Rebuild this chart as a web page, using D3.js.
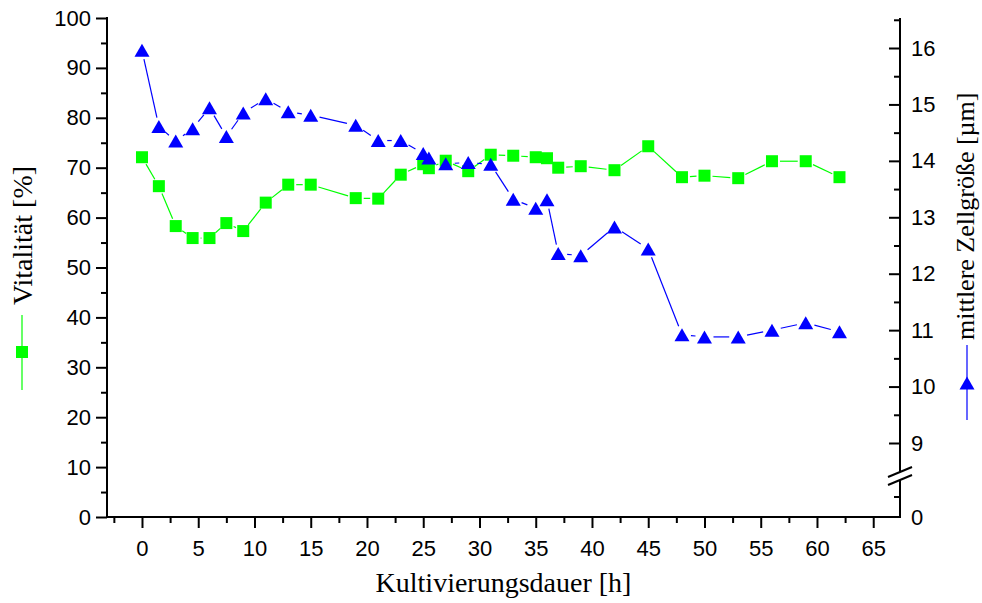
<!DOCTYPE html>
<html>
<head>
<meta charset="utf-8">
<script src="https://cdn.jsdelivr.net/npm/d3@7"></script>
<style>
  html, body { margin: 0; padding: 0; background: #fff; }
  svg { display: block; }
  .tick text { font-family: "Liberation Sans", Arial, sans-serif; font-size: 22px; fill: #000; }
  .title { font-family: "Liberation Serif", "Times New Roman", serif; font-size: 28px; fill: #000; }
</style>
</head>
<body>
<svg id="chart" width="982" height="603"></svg>
<script>
// Cultivation time in hours
const hours = [0, 1.5, 3, 4.5, 6, 7.5, 9, 11, 13, 15, 19, 21, 23, 25, 25.5, 27, 29, 31,
               33, 35, 36, 37, 39, 42, 45, 48, 50, 53, 56, 59, 62];
// Viability in percent
const vitality = [72.1, 66.3, 58.3, 55.9, 55.9, 58.9, 57.3, 63.0, 66.6, 66.6, 63.9, 63.8,
                  68.6, 70.7, 69.9, 71.4, 69.3, 72.6, 72.4, 72.1, 71.9, 70.0, 70.3, 69.5,
                  74.3, 68.1, 68.4, 67.9, 71.3, 71.3, 68.1];
// Mean cell size in micrometres
const cellSize = [15.96, 14.61, 14.35, 14.57, 14.94, 14.43, 14.85, 15.10, 14.87, 14.81, 14.63,
                  14.36, 14.36, 14.13, 14.05, 13.95, 13.97, 13.94, 13.32, 13.16, 13.31, 12.36,
                  12.32, 12.83, 12.44, 10.92, 10.88, 10.88, 11.00, 11.13, 10.97];

const xTicks = [0, 5, 10, 15, 20, 25, 30, 35, 40, 45, 50, 55, 60, 65];
const xMinor = [-2.5, 2.5, 7.5, 12.5, 17.5, 22.5, 27.5, 32.5, 37.5, 42.5, 47.5, 52.5, 57.5, 62.5];
const leftTicks = [0, 10, 20, 30, 40, 50, 60, 70, 80, 90, 100];
const leftMinor = [5, 15, 25, 35, 45, 55, 65, 75, 85, 95];
const rightTicks = [9, 10, 11, 12, 13, 14, 15, 16];
const rightMinor = [9.5, 10.5, 11.5, 12.5, 13.5, 14.5, 15.5, 16.5];
const rightLowTicks = [0];
const rightLowMinor = [0.5];

const svg = d3.select("#chart");

const x = d3.scaleLinear().domain([-3.11, 67.38]).range([107, 900]);
const yL = d3.scaleLinear().domain([0, 100]).range([517, 18]);
// right axis is broken: upper part 9..16, lower stub showing 0
const yR = d3.scaleLinear().domain([9, 16]).range([443, 48]);
const yR0 = d3.scaleLinear().domain([0, 1]).range([517, 476]);

const axisColor = "#000";
const intFmt = d3.format("d");
function styleAxis(g) {
  g.selectAll("line").attr("stroke", axisColor).attr("stroke-width", 2);
  g.selectAll(".domain").remove();
}

// ---- bottom axis ----
svg.append("g").attr("transform", `translate(0,${yL(0)})`)
  .call(d3.axisBottom(x).tickValues(xTicks).tickSize(11).tickPadding(12).tickFormat(intFmt))
  .call(styleAxis);
svg.append("g").attr("transform", `translate(0,${yL(0)})`)
  .call(d3.axisBottom(x).tickValues(xMinor).tickSize(6).tickFormat(""))
  .call(styleAxis);
svg.append("line").attr("x1", x.range()[0] - 1).attr("x2", x.range()[1] + 1)
  .attr("y1", yL(0)).attr("y2", yL(0)).attr("stroke", axisColor).attr("stroke-width", 2);

// ---- left axis ----
svg.append("g").attr("transform", `translate(${x.range()[0]},0)`)
  .call(d3.axisLeft(yL).tickValues(leftTicks).tickSize(11).tickPadding(5).tickFormat(intFmt))
  .call(styleAxis);
svg.append("g").attr("transform", `translate(${x.range()[0]},0)`)
  .call(d3.axisLeft(yL).tickValues(leftMinor).tickSize(6).tickFormat(""))
  .call(styleAxis);
svg.append("line").attr("x1", x.range()[0]).attr("x2", x.range()[0])
  .attr("y1", yL(100) - 1).attr("y2", yL(0) + 1).attr("stroke", axisColor).attr("stroke-width", 2);

// ---- right axis (with break) ----
const rx = x.range()[1];
svg.append("g").attr("transform", `translate(${rx},0)`)
  .call(d3.axisRight(yR).tickValues(rightTicks).tickSize(-11).tickPadding(11).tickFormat(intFmt))
  .call(styleAxis);
svg.append("g").attr("transform", `translate(${rx},0)`)
  .call(d3.axisRight(yR).tickValues(rightMinor).tickSize(-6).tickFormat(""))
  .call(styleAxis);
svg.append("g").attr("transform", `translate(${rx},0)`)
  .call(d3.axisRight(yR0).tickValues(rightLowTicks).tickSize(0).tickPadding(11).tickFormat(intFmt))
  .call(styleAxis);
svg.append("g").attr("transform", `translate(${rx},0)`)
  .call(d3.axisRight(yR0).tickValues(rightLowMinor).tickSize(-6).tickFormat(""))
  .call(styleAxis);
const breakY = 476;
svg.append("line").attr("x1", rx).attr("x2", rx).attr("y1", yR(16.53)).attr("y2", breakY - 4)
  .attr("stroke", axisColor).attr("stroke-width", 2);
svg.append("line").attr("x1", rx).attr("x2", rx).attr("y1", breakY + 4).attr("y2", yR0(0) + 1)
  .attr("stroke", axisColor).attr("stroke-width", 2);
[-4, 4].forEach(off => {
  svg.append("line")
    .attr("x1", rx - 12).attr("y1", breakY + off + 5)
    .attr("x2", rx + 12).attr("y2", breakY + off - 5)
    .attr("stroke", axisColor).attr("stroke-width", 2);
});

// ---- series ----
// connecting lines stop short of the markers
function drawSegments(pts, color, gap) {
  const g = svg.append("g");
  for (let i = 0; i < pts.length - 1; i++) {
    const [x1, y1] = pts[i], [x2, y2] = pts[i + 1];
    const dx = x2 - x1, dy = y2 - y1, len = Math.hypot(dx, dy);
    if (len <= 2 * gap) continue;
    const ux = dx / len, uy = dy / len;
    g.append("line")
      .attr("x1", x1 + ux * gap).attr("y1", y1 + uy * gap)
      .attr("x2", x2 - ux * gap).attr("y2", y2 - uy * gap)
      .attr("stroke", color).attr("stroke-width", 1.2);
  }
}

const green = "#00ff00", blue = "#0000ff";
const sq = 12, triW = 15, triH = 13;
const triPath = `M0,${-triH / 2}L${triW / 2},${triH / 2}L${-triW / 2},${triH / 2}Z`;

const vPts = hours.map((h, i) => [x(h), yL(vitality[i])]);
const cPts = hours.map((h, i) => [x(h), yR(cellSize[i])]);

drawSegments(vPts, green, 8);
svg.append("g").selectAll("rect").data(vPts).join("rect")
  .attr("x", d => d[0] - sq / 2).attr("y", d => d[1] - sq / 2)
  .attr("width", sq).attr("height", sq).attr("fill", green);

drawSegments(cPts, blue, 9);
svg.append("g").selectAll("path").data(cPts).join("path")
  .attr("transform", d => `translate(${d[0]},${d[1]})`)
  .attr("d", triPath).attr("fill", blue);

// ---- titles & legends ----
svg.append("text").attr("class", "title")
  .attr("x", (x.range()[0] + x.range()[1]) / 2).attr("y", 592)
  .attr("text-anchor", "middle").text("Kultivierungsdauer [h]");

// left: line + square, then title reading upward
svg.append("line").attr("x1", 22).attr("x2", 22).attr("y1", 315).attr("y2", 390)
  .attr("stroke", green).attr("stroke-width", 1.2);
svg.append("rect").attr("x", 22 - sq / 2).attr("y", 352 - sq / 2)
  .attr("width", sq).attr("height", sq).attr("fill", green);
svg.append("text").attr("class", "title")
  .attr("transform", "translate(32,305) rotate(-90)")
  .attr("text-anchor", "start").text("Vitalität [%]");

// right: line + triangle, then title reading upward
svg.append("line").attr("x1", 967).attr("x2", 967).attr("y1", 345).attr("y2", 420)
  .attr("stroke", blue).attr("stroke-width", 1.2);
svg.append("path").attr("transform", "translate(967,383)").attr("d", triPath).attr("fill", blue);
svg.append("text").attr("class", "title")
  .attr("transform", "translate(974,340) rotate(-90)")
  .style("font-size", "26px")
  .attr("text-anchor", "start").text("mittlere Zellgröße [µm]");
</script>
</body>
</html>
